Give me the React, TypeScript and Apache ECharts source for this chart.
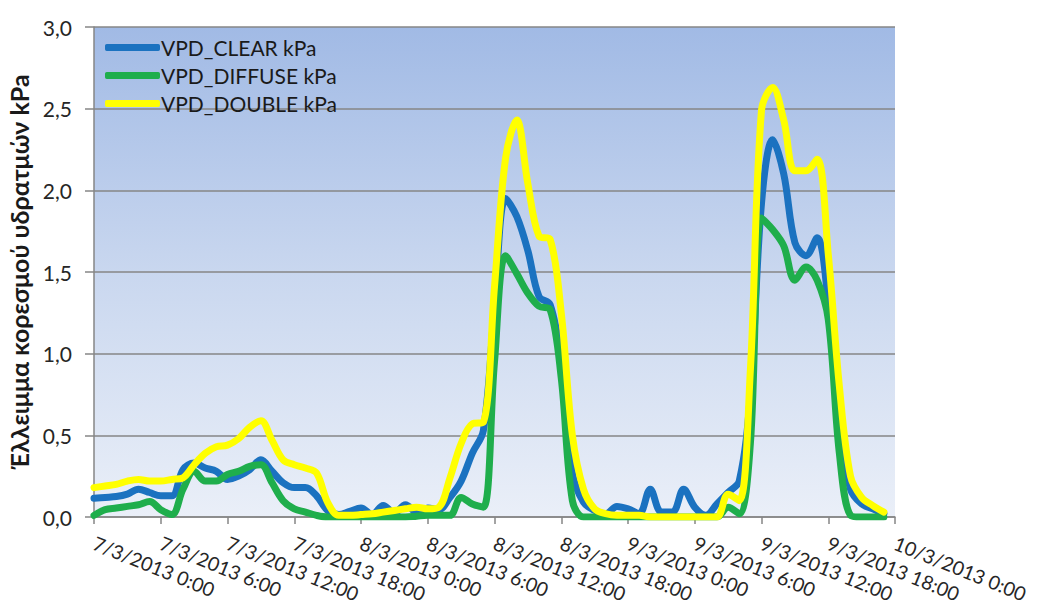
import React, { useEffect, useRef } from "react";
import * as echarts from "echarts";

const hours: number[] = Array.from({ length: 72 }, (_, i) => i);

const clear: number[] = [
  0.115, 0.12, 0.125, 0.14, 0.17, 0.15, 0.13, 0.13, 0.29, 0.33, 0.3, 0.28,
  0.23, 0.25, 0.29, 0.35, 0.28, 0.21, 0.18, 0.18, 0.13, 0.04, 0.015, 0.035,
  0.055, 0.015, 0.07, 0.025, 0.075, 0.03, 0.055, 0.045, 0.12, 0.22, 0.39, 0.53,
  1.28, 1.95, 1.84, 1.63, 1.35, 1.3, 0.95, 0.27, 0.09, 0.04, 0.02, 0.065,
  0.05, 0.02, 0.17, 0.03, 0.03, 0.17, 0.06, 0.01, 0.08, 0.15, 0.22, 0.75,
  1.92, 2.31, 2.1, 1.68, 1.6, 1.71, 1.31, 0.59, 0.17, 0.08, 0.05, 0.02,
];

const diffuse: number[] = [
  0.01, 0.045, 0.055, 0.065, 0.075, 0.095, 0.045, 0.015, 0.17, 0.28, 0.22, 0.22,
  0.26, 0.28, 0.31, 0.32, 0.21, 0.1, 0.05, 0.03, 0.01, 0.0, 0.0, 0.0,
  0.0, 0.0, 0.0, 0.0, 0.0, 0.005, 0.01, 0.01, 0.01, 0.12, 0.08, 0.06,
  0.95, 1.6, 1.49, 1.37, 1.29, 1.27, 0.85, 0.1, 0.0, 0.0, 0.0, 0.0,
  0.0, 0.0, 0.0, 0.0, 0.0, 0.0, 0.0, 0.0, 0.0, 0.06, 0.02, 0.45,
  1.83, 1.76, 1.66, 1.45, 1.53, 1.45, 1.21, 0.39, 0.01, 0.0, 0.0, 0.0,
];

const double: number[] = [
  0.18, 0.19, 0.2, 0.22, 0.23, 0.22, 0.22, 0.23, 0.24, 0.32, 0.39, 0.43,
  0.44, 0.48, 0.55, 0.59, 0.47, 0.35, 0.32, 0.3, 0.27, 0.09, 0.01, 0.01,
  0.015, 0.02, 0.03, 0.04, 0.05, 0.06, 0.05, 0.06, 0.24, 0.45, 0.57, 0.58,
  1.41, 2.2, 2.43, 2.04, 1.72, 1.7, 1.25, 0.5, 0.17, 0.05, 0.02, 0.01,
  0.01, 0.01, 0.0, 0.0, 0.0, 0.0, 0.0, 0.0, 0.0, 0.14, 0.1, 0.9,
  2.49, 2.63, 2.43, 2.12, 2.12, 2.19, 1.61, 0.8, 0.25, 0.12, 0.07, 0.03,
];

const seriesNames: string[] = ["VPD_CLEAR kPa", "VPD_DIFFUSE kPa", "VPD_DOUBLE kPa"];
const seriesColors: string[] = ["#1b72c0", "#1fae4c", "#ffff00"];
const yTitle = "Έλλειμμα κορεσμού υδρατμών kPa";
const startDay = 7;

const FONT = "Lato, 'Noto Sans', sans-serif";

function xLabel(h: number): string {
  const day = startDay + Math.floor(h / 24);
  const hr = Math.round(h % 24);
  return `${day}/3/2013 ${hr}:00`;
}

export default function App() {
  const ref = useRef<HTMLDivElement>(null);
  useEffect(() => {
    if (!ref.current) return;
    const chart = echarts.init(ref.current, undefined, { renderer: "svg" });
    const all = [clear, diffuse, double];
    chart.setOption({
      animation: false,
      backgroundColor: "#ffffff",
      grid: {
        left: 94,
        right: 142,
        top: 27,
        bottom: 89,
        containLabel: false,
        outerBoundsMode: "none",
        show: true,
        borderWidth: 0,
        backgroundColor: new echarts.graphic.LinearGradient(0, 0, 0, 1, [
          { offset: 0, color: "#a1bae5" },
          { offset: 0.5, color: "#c9d7ef" },
          { offset: 1, color: "#eaeff8" },
        ]),
      },
      legend: {
        orient: "vertical",
        left: 100,
        top: 32,
        itemWidth: 55,
        itemHeight: 7,
        itemGap: 7,
        icon: "roundRect",
        data: seriesNames,
        textStyle: { fontSize: 21, color: "#1a1a1a", fontFamily: FONT, padding: [0, 0, 0, -4] },
      },
      xAxis: {
        type: "value",
        min: 0,
        max: 72,
        interval: 6,
        axisLine: { show: true, lineStyle: { color: "#868686", width: 1.5 } },
        axisTick: { show: true, length: 7, lineStyle: { color: "#868686", width: 1.5 } },
        splitLine: { show: false },
        axisLabel: {
          rotate: -22,
          margin: 25,
          fontSize: 19.5,
          color: "#262626",
          fontFamily: FONT,
          formatter: (v: number) => xLabel(v),
        },
      },
      yAxis: {
        type: "value",
        min: 0,
        max: 3,
        interval: 0.5,
        name: yTitle,
        nameLocation: "middle",
        nameGap: 57,
        nameTextStyle: { fontSize: 25, fontWeight: "bold", color: "#1a1a1a", fontFamily: FONT },
        axisLine: { show: true, lineStyle: { color: "#868686", width: 1.5 } },
        axisTick: { show: true, length: 9, lineStyle: { color: "#868686", width: 1.5 } },
        splitLine: { show: true, lineStyle: { color: "#868686", width: 1.5 } },
        axisLabel: {
          margin: 22,
          fontSize: 21,
          color: "#262626",
          fontFamily: FONT,
          formatter: (v: number) => v.toFixed(1).replace(".", ","),
        },
      },
      series: seriesNames.map((name, k) => ({
        name,
        type: "line",
        smooth: 0.35,
        symbol: "none",
        color: seriesColors[k],
        lineStyle: { width: 7, color: seriesColors[k], cap: "round", join: "round" },
        data: hours.map((h, i) => [h, all[k][i]]),
      })),
    });
    return () => chart.dispose();
  }, []);
  return (
    <div
      ref={ref}
      style={{ position: "fixed", left: 0, top: 0, width: 1037, height: 606 }}
    />
  );
}
